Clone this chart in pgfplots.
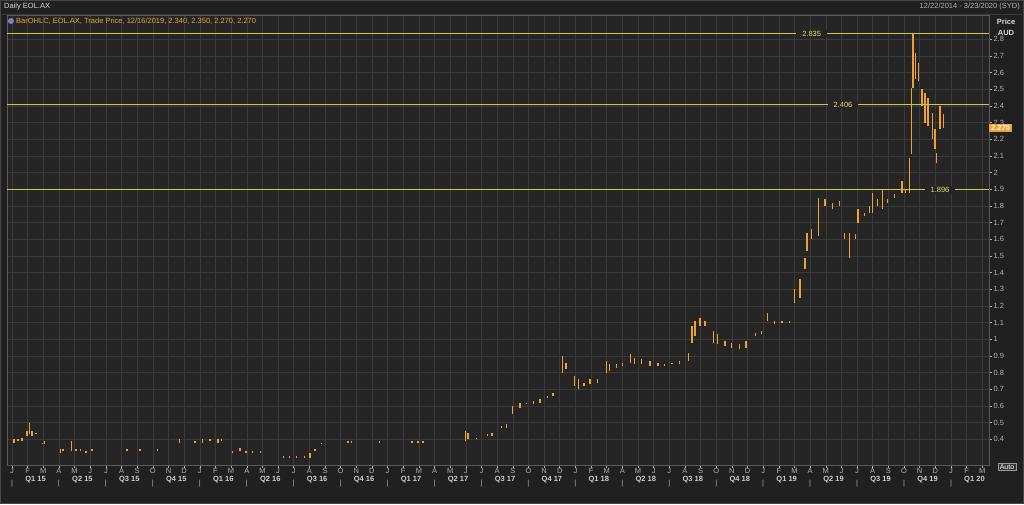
\documentclass[border=0pt]{standalone}
\usepackage{fontspec}
\setmainfont{Liberation Sans}
\usepackage{pgfplots}
\usepackage{pgfplotstable}
\pgfplotsset{compat=1.18}

\definecolor{outerbg}{HTML}{202020}
\definecolor{plotbg}{HTML}{252525}
\definecolor{gridc}{HTML}{3A3A3A}
\definecolor{barc}{HTML}{F0A030}
\definecolor{lvl}{HTML}{D2CA3A}
\definecolor{lvltext}{HTML}{E0DE6A}
\definecolor{lbl}{HTML}{B0B0B0}

% month index (0 = Jan 2015), daily low, daily high
\pgfplotstableread{
m lo hi
0.13 0.38 0.40
0.38 0.39 0.40
0.64 0.39 0.41
0.96 0.42 0.45
1.09 0.43 0.50
1.28 0.42 0.45
1.53 0.43 0.44
1.92 0.37 0.38
2.10 0.37 0.39
3.07 0.32 0.34
3.26 0.33 0.34
3.83 0.33 0.39
4.09 0.33 0.34
4.35 0.33 0.34
4.73 0.32 0.33
5.11 0.33 0.34
7.35 0.33 0.34
8.18 0.33 0.34
9.27 0.33 0.34
10.73 0.38 0.40
11.69 0.38 0.39
12.20 0.38 0.40
12.65 0.39 0.40
13.16 0.38 0.40
13.40 0.39 0.40
14.10 0.32 0.33
14.57 0.33 0.35
14.95 0.32 0.33
15.34 0.32 0.33
15.85 0.32 0.33
17.32 0.29 0.30
17.76 0.29 0.30
18.20 0.29 0.30
18.70 0.29 0.30
19.04 0.29 0.32
19.36 0.33 0.34
19.80 0.37 0.38
21.47 0.38 0.39
21.70 0.38 0.39
23.50 0.38 0.39
25.56 0.38 0.39
25.94 0.38 0.39
26.26 0.38 0.39
28.95 0.39 0.45
29.14 0.40 0.44
29.70 0.40 0.41
30.40 0.42 0.43
30.67 0.42 0.44
31.30 0.47 0.48
31.60 0.47 0.49
32.00 0.55 0.60
32.46 0.59 0.62
32.90 0.61 0.62
33.30 0.61 0.63
33.74 0.62 0.64
34.20 0.65 0.66
34.57 0.66 0.68
35.20 0.80 0.90
35.40 0.82 0.86
35.97 0.72 0.78
36.20 0.70 0.76
36.55 0.72 0.74
36.93 0.73 0.76
37.40 0.74 0.76
37.96 0.80 0.87
38.20 0.81 0.85
38.60 0.83 0.85
39.00 0.84 0.86
39.50 0.86 0.91
39.80 0.85 0.89
40.25 0.85 0.88
40.77 0.84 0.87
41.28 0.84 0.86
41.72 0.84 0.85
42.17 0.85 0.86
42.68 0.85 0.87
43.20 0.87 0.92
43.45 0.98 1.08
43.64 1.02 1.11
43.96 1.08 1.13
44.28 1.08 1.11
44.80 0.98 1.05
45.10 0.97 1.03
45.56 0.96 0.99
46.00 0.95 0.98
46.50 0.94 0.97
46.90 0.95 0.99
47.48 1.02 1.04
47.90 1.03 1.05
48.30 1.11 1.16
48.75 1.09 1.11
49.20 1.10 1.11
49.70 1.10 1.11
50.00 1.22 1.30
50.35 1.25 1.36
50.67 1.42 1.49
50.80 1.53 1.64
51.10 1.60 1.66
51.56 1.62 1.85
51.95 1.80 1.84
52.40 1.78 1.82
52.90 1.80 1.83
53.20 1.60 1.64
53.50 1.49 1.64
53.87 1.60 1.63
54.06 1.70 1.78
54.50 1.74 1.76
54.80 1.76 1.80
55.00 1.76 1.88
55.30 1.80 1.84
55.65 1.78 1.90
55.97 1.82 1.84
56.40 1.85 1.87
56.87 1.88 1.95
57.10 1.88 1.90
57.35 1.88 2.09
57.45 2.11 2.51
57.57 2.51 2.835
57.76 2.56 2.72
57.95 2.55 2.66
58.15 2.40 2.50
58.34 2.30 2.48
58.53 2.28 2.45
58.79 2.20 2.36
58.98 2.14 2.26
59.10 2.06 2.12
59.30 2.26 2.40
59.50 2.27 2.35
}\ohlc

\begin{document}
\begin{tikzpicture}[x=1pt,y=1pt]
\fill[outerbg] (0,0) rectangle (1024,504);
\draw[gray!55!black, line width=1pt] (0.5,0.5) rectangle (1023.5,503.5);
\draw[gray!45!black, line width=0.8pt] (2,490) -- (1022,490);
\node[anchor=west, text=white!85!black, font=\fontsize{7.5}{9}\selectfont, inner sep=0pt] at (4,497) {Daily EOL.AX};
\node[anchor=east, text=lbl, font=\fontsize{7.5}{9}\selectfont, inner sep=0pt] at (1020,497) {12/22/2014 - 3/23/2020 (SYD)};

\begin{axis}[
  at={(7pt,489pt)}, anchor=north west,
  width=982pt, height=450pt, scale only axis,
  xmin=-0.32, xmax=62.43, ymin=0.246, ymax=2.946,
  axis background/.style={fill=plotbg},
  axis line style={draw=gray!70!black, line width=0.6pt},
  clip=false,
  xtick pos=bottom, ytick pos=right, yticklabel pos=right,
  tick align=outside, major tick length=3pt,
  tick style={draw=lbl, line width=0.5pt},
  grid=major, major grid style={draw=gridc, line width=0.5pt},
  xtick={0,...,62},
  xticklabels={
    {J\\[4pt]|},F,M,{A\\[4pt]|},M,J,{J\\[4pt]|},A,S,{O\\[4pt]|},N,D,
    {J\\[4pt]|},F,M,{A\\[4pt]|},M,J,{J\\[4pt]|},A,S,{O\\[4pt]|},N,D,
    {J\\[4pt]|},F,M,{A\\[4pt]|},M,J,{J\\[4pt]|},A,S,{O\\[4pt]|},N,D,
    {J\\[4pt]|},F,M,{A\\[4pt]|},M,J,{J\\[4pt]|},A,S,{O\\[4pt]|},N,D,
    {J\\[4pt]|},F,M,{A\\[4pt]|},M,J,{J\\[4pt]|},A,S,{O\\[4pt]|},N,D,
    {J\\[4pt]|},F,M},
  xticklabel style={font=\fontsize{7.5}{8}\selectfont, text=lbl, align=center, inner sep=1pt, yshift=1pt},
  extra x ticks={1.5,4.5,...,61.5},
  extra x tick labels={Q1 15,Q2 15,Q3 15,Q4 15,Q1 16,Q2 16,Q3 16,Q4 16,Q1 17,Q2 17,Q3 17,Q4 17,Q1 18,Q2 18,Q3 18,Q4 18,Q1 19,Q2 19,Q3 19,Q4 19,Q1 20},
  extra x tick style={grid=none, major tick length=0pt,
    xticklabel style={yshift=-11pt, font=\fontsize{7.5}{8}\selectfont\bfseries, text=white!80!black}},
  ytick={0.4,0.5,0.6,0.7,0.8,0.9,1,1.1,1.2,1.3,1.4,1.5,1.6,1.7,1.8,1.9,2,2.1,2.2,2.3,2.4,2.5,2.6,2.7,2.8},
  yticklabel style={font=\fontsize{7.5}{8}\selectfont, text=lbl, xshift=-2pt,
    /pgf/number format/fixed},
  /pgf/number format/assume math mode=true,
]
% OHLC bars (high-low ranges)
\addplot[draw=none, mark=none, forget plot,
  error bars/.cd, y dir=plus, y explicit, error mark=none,
  error bar style={draw=barc, line width=1.1pt}]
  table[x=m, y=lo, y error expr=\thisrow{hi}-\thisrow{lo}] {\ohlc};

% resistance / support levels
\addplot[color=lvl, line width=1pt, forget plot] coordinates {(-0.32,2.835) (62.43,2.835)};
\addplot[color=lvl, line width=1pt, forget plot] coordinates {(-0.32,2.406) (62.43,2.406)};
\addplot[color=lvl, line width=1pt, forget plot] coordinates {(-0.32,1.896) (62.43,1.896)};
\node[fill=plotbg, text=lvltext, font=\fontsize{7.5}{8}\selectfont, inner xsep=6pt, inner ysep=1pt] at (axis cs:51.1,2.835) {2.835};
\node[fill=plotbg, text=lvltext, font=\fontsize{7.5}{8}\selectfont, inner xsep=6pt, inner ysep=1pt] at (axis cs:53.1,2.406) {2.406};
\node[fill=plotbg, text=lvltext, font=\fontsize{7.5}{8}\selectfont, inner xsep=6pt, inner ysep=1pt] at (axis cs:59.3,1.896) {1.896};

% last price tag
\node[anchor=west, fill=barc, text=white, font=\fontsize{7.5}{8}\selectfont\bfseries, inner xsep=2pt, inner ysep=1.5pt] at (axis cs:62.43,2.27) {2.270};
\end{axis}

\fill[gray!60!blue!70!white] (11,483) circle (3);
\node[anchor=west, text=barc, font=\fontsize{7.5}{9}\selectfont, inner sep=0pt] at (16,483) {BarOHLC, EOL.AX, Trade Price, 12/16/2019, 2.340, 2.350, 2.270, 2.270};
\node[text=white!85!black, font=\fontsize{7.5}{8}\selectfont\bfseries, inner sep=0pt] at (1006,482) {Price};
\node[text=white!85!black, font=\fontsize{7.5}{8}\selectfont\bfseries, inner sep=0pt] at (1006,471) {AUD};
\node[draw=gray!80!white, fill=gray!40!black, text=white, font=\fontsize{7}{8}\selectfont, inner xsep=1.5pt, inner ysep=1pt] at (1007,37) {Auto};
\end{tikzpicture}
\end{document}
